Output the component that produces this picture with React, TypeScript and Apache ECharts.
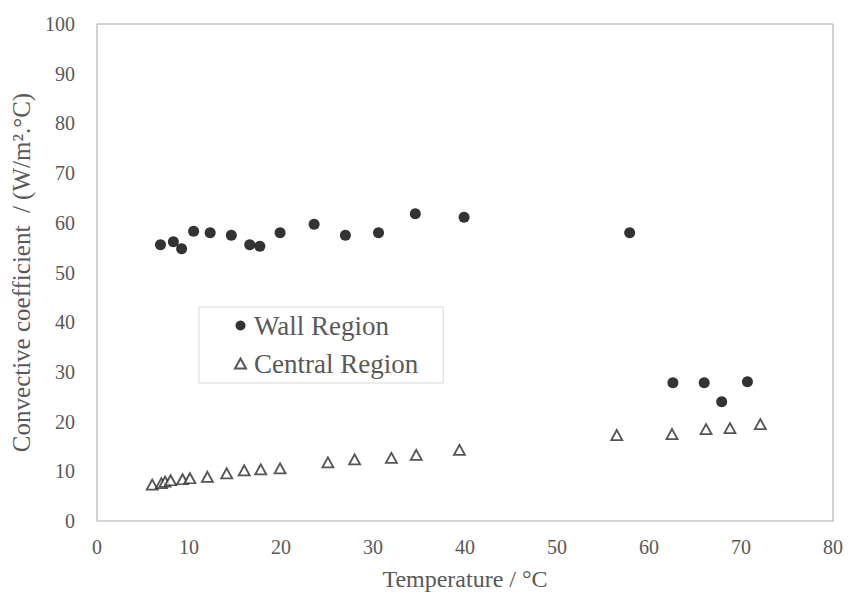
import React, { useEffect, useRef } from "react";
import * as echarts from "echarts";

const wallT = [6.9, 8.3, 9.2, 10.5, 12.3, 14.6, 16.6, 17.7, 19.9, 23.6, 27.0, 30.6, 34.6, 39.9, 57.9, 62.6, 66.0, 67.9, 70.7];
const wallH = [55.6, 56.2, 54.8, 58.3, 58.0, 57.5, 55.6, 55.3, 58.0, 59.7, 57.5, 58.0, 61.8, 61.1, 58.0, 27.8, 27.8, 24.0, 28.0];

const centralT = [6.0, 7.0, 7.4, 8.0, 9.3, 10.1, 12.0, 14.1, 16.0, 17.8, 19.9, 25.1, 28.0, 32.0, 34.7, 39.4, 56.5, 62.5, 66.2, 68.8, 72.1];
const centralH = [7.3, 7.6, 7.9, 8.2, 8.4, 8.6, 8.9, 9.6, 10.2, 10.4, 10.6, 11.8, 12.4, 12.7, 13.3, 14.3, 17.3, 17.5, 18.5, 18.7, 19.5];

const seriesNames = ["Wall Region", "Central Region"];
const xTitle = "Temperature / °C";
const yTitle = "Convective coefficient  / (W/m².°C)";

const FONT = "'Liberation Serif', 'Times New Roman', serif";
const TEXT = "#595959";

export default function App() {
  const ref = useRef<HTMLDivElement>(null);
  useEffect(() => {
    if (!ref.current) return;
    const chart = echarts.init(ref.current, undefined, { renderer: "svg" });
    chart.setOption({
      animation: false,
      backgroundColor: "#ffffff",
      grid: {
        left: 97,
        right: 18,
        top: 24,
        bottom: 74,
        show: true,
        borderColor: "#a6a6a6",
        borderWidth: 1,
      },
      legend: {
        orient: "vertical",
        left: 199,
        top: 307,
        data: seriesNames,
        itemWidth: 11,
        itemHeight: 10,
        itemGap: 9,
        padding: [4, 25, 5, 35],
        borderColor: "#d9d9d9",
        borderWidth: 1,
        textStyle: {
          fontFamily: FONT,
          fontSize: 27,
          color: TEXT,
          lineHeight: 29,
          padding: [0, 0, 0, 3],
        },
      },
      xAxis: {
        type: "value",
        min: 0,
        max: 80,
        interval: 10,
        name: xTitle,
        nameLocation: "middle",
        nameGap: 46,
        nameTextStyle: { fontFamily: FONT, fontSize: 24, color: TEXT },
        axisLine: { show: true, lineStyle: { color: "#d9d9d9" } },
        axisTick: { show: false },
        splitLine: { show: false },
        axisLabel: { fontFamily: FONT, fontSize: 20, color: TEXT, margin: 16 },
      },
      yAxis: {
        type: "value",
        min: 0,
        max: 100,
        interval: 10,
        name: yTitle,
        nameLocation: "middle",
        nameGap: 62,
        nameTextStyle: { fontFamily: FONT, fontSize: 25, color: TEXT },
        axisLine: { show: false },
        axisTick: { show: false },
        splitLine: { show: false },
        axisLabel: { fontFamily: FONT, fontSize: 20, color: TEXT, margin: 22 },
      },
      series: [
        {
          name: seriesNames[0],
          type: "scatter",
          symbol: "circle",
          symbolSize: 11,
          itemStyle: { color: "#000000" },
          data: wallT.map((t, i) => [t, wallH[i]]),
        },
        {
          name: seriesNames[1],
          type: "scatter",
          symbol: "triangle",
          symbolSize: [11, 10],
          itemStyle: { color: "#ffffff", borderColor: "#2b2b2b", borderWidth: 1.8 },
          data: centralT.map((t, i) => [t, centralH[i]]),
        },
      ],
    });
    return () => chart.dispose();
  }, []);
  return (
    <div
      ref={ref}
      style={{ position: "absolute", left: 0, top: 0, width: 851, height: 596 }}
    />
  );
}
